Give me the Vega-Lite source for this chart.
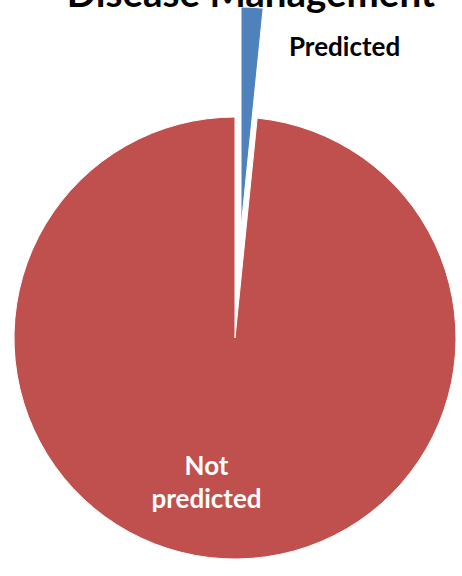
{
  "$schema": "https://vega.github.io/schema/vega-lite/v6.json",
  "width": 454,
  "height": 476,
  "autosize": "none",
  "padding": {"left": 8, "top": 100, "right": 0, "bottom": 0},
  "background": "white",
  "view": {"stroke": null},
  "title": {"text": "Disease Management", "font": "Lato", "fontSize": 38.5, "fontWeight": "bold", "color": "black", "anchor": "middle", "offset": -10, "dx": 16},
  "data": {"values": [
    {"category": "Predicted", "value": 1.6},
    {"category": "Not predicted", "value": 98.4}
  ]},
  "encoding": {
    "theta": {"field": "value", "type": "quantitative", "stack": true},
    "order": {"field": "category", "sort": "descending"},
    "color": {"field": "category", "type": "nominal", "scale": {"domain": ["Predicted", "Not predicted"], "range": ["#4F81BD", "#C0504D"]}, "legend": null}
  },
  "layer": [
    {
      "mark": {"type": "arc", "radius": 221, "stroke": "white", "strokeWidth": 1},
      "encoding": {"opacity": {"condition": {"test": "datum.category == 'Predicted'", "value": 0}, "value": 1}}
    },
    {
      "mark": {"type": "arc", "radius": 221, "stroke": "white", "strokeWidth": 1, "xOffset": 6, "yOffset": -110},
      "encoding": {"opacity": {"condition": {"test": "datum.category == 'Predicted'", "value": 1}, "value": 0}}
    },
    {
      "mark": {"type": "text", "radius": 290, "dx": 95, "font": "Lato", "fontSize": 26, "fontWeight": "bold", "fill": "black", "align": "center", "baseline": "middle"},
      "encoding": {"text": {"condition": {"test": "datum.category == 'Predicted'", "field": "category"}, "value": ""}}
    },
    {
      "mark": {"type": "text", "radius": 129, "dx": -22, "font": "Lato", "fontSize": 26, "fontWeight": "bold", "fill": "white", "align": "center", "baseline": "middle", "lineBreak": " ", "lineHeight": 33},
      "encoding": {"text": {"condition": {"test": "datum.category == 'Not predicted'", "field": "category"}, "value": ""}}
    }
  ]
}
